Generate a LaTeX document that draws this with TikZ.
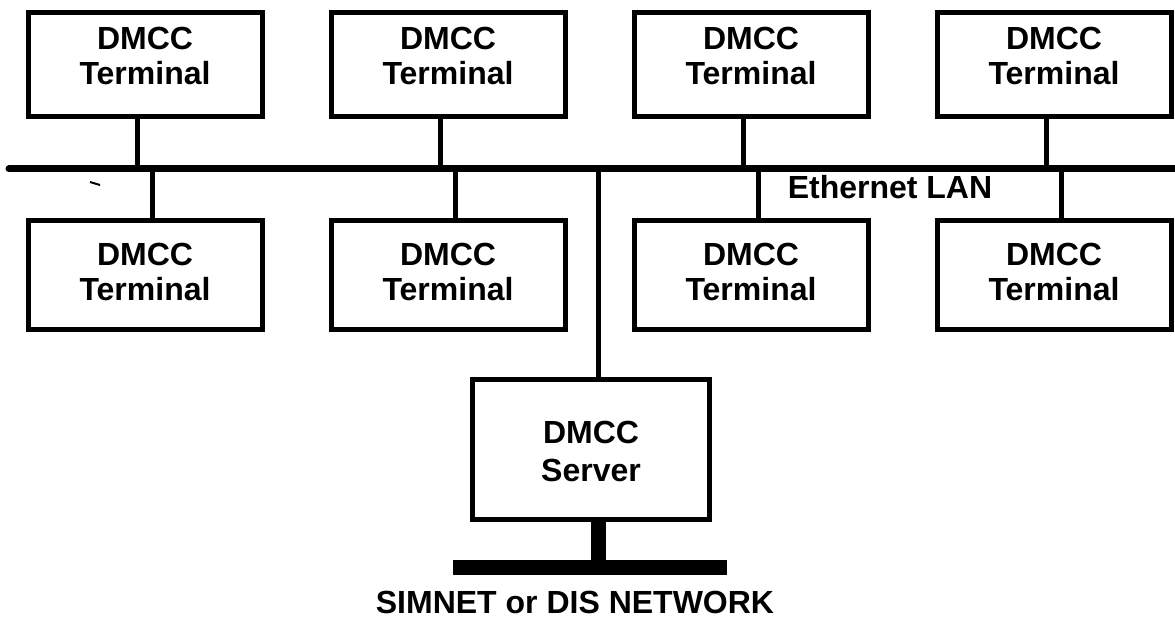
\documentclass[tikz,border=0pt]{standalone}
\usepackage{fontspec}
\setmainfont{Liberation Sans}
\begin{document}
\begin{tikzpicture}[x=1pt,y=-1pt,
  tbox/.style={draw, line width=5pt, minimum width=234pt, minimum height=104pt, inner sep=0pt},
  bbox/.style={draw, line width=5pt, minimum width=234pt, minimum height=109pt, inner sep=0pt},
  sbox/.style={draw, line width=5pt, minimum width=237pt, minimum height=140pt, inner sep=0pt},
  lbl/.style={font=\fontsize{32}{35}\selectfont\bfseries, align=center, inner sep=0pt},
  slbl/.style={font=\fontsize{32}{38}\selectfont\bfseries, align=center, inner sep=0pt},
  wire/.style={line width=5pt},
  bus/.style={line width=7pt, line cap=round}]
\useasboundingbox (0,0) rectangle (1175,620);

% bus
\coordinate (busL) at (9,169);
\coordinate (busR) at (1175,169);
\draw[bus] (busL) -- (busR);

% top row
\foreach \i/\x in {1/145,2/448,3/751,4/1054}{
  \node[tbox] (t\i) at (\x,65) {};
  \node[lbl] (tl\i) at (\x,56) {DMCC\\Terminal};
  \draw[wire] ([xshift=-8pt]t\i.south) -- ([xshift=-8pt]t\i.south |- busL);
}
% bottom row
\foreach \i/\x in {1/145,2/448,3/751,4/1054}{
  \node[bbox] (b\i) at (\x,275) {};
  \node[lbl] (bl\i) at (\x,272) {DMCC\\Terminal};
  \draw[wire] ([xshift=7pt]b\i.north) -- ([xshift=7pt]b\i.north |- busL);
}

\node[lbl] (lan) at (890,187.5) {Ethernet LAN};

% server
\node[sbox] (srv) at (591,449.5) {};
\node[slbl] (srvl) at (591,451) {DMCC\\Server};
\draw[wire] ([xshift=7pt]srv.north) -- ([xshift=7pt]srv.north |- busL);

% external network
\node[fill=black, minimum width=274pt, minimum height=15pt, inner sep=0pt] (net) at (590,567.5) {};
\draw[line width=15pt] ([xshift=7pt]srv.south) -- ([xshift=7pt]srv.south |- net.north);
\node[lbl] (netl) at (575,602) {SIMNET or DIS NETWORK};

% stray mark
\draw[line width=2pt] (90,182) -- (100,185);
\end{tikzpicture}
\end{document}
